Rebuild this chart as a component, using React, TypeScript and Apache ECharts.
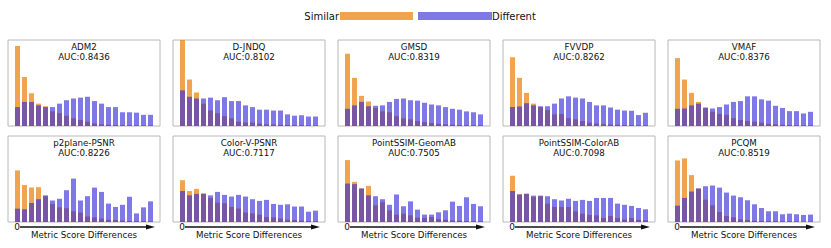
import React, { useEffect, useRef } from "react";
import * as echarts from "echarts";

const metricNames = ["ADM2", "D-JNDQ", "GMSD", "FVVDP", "VMAF", "p2plane-PSNR", "Color-V-PSNR", "PointSSIM-GeomAB", "PointSSIM-ColorAB", "PCQM"];
const aucValues = ["0.8436", "0.8102", "0.8319", "0.8262", "0.8376", "0.8226", "0.7117", "0.7505", "0.7098", "0.8519"];
const binIndex = [0, 1, 2, 3, 4, 5, 6, 7, 8, 9, 10, 11, 12, 13, 14, 15, 16, 17, 18, 19];

const simADM2 = [0.93, 0.57, 0.38, 0.26, 0.23, 0.17, 0.15, 0.12, 0.09, 0.07, 0.05, 0.03, 0.02, 0.015, 0.012, 0.01, 0.008, 0.006, 0.005, 0.004];
const difADM2 = [0.22, 0.28, 0.28, 0.24, 0.22, 0.22, 0.26, 0.30, 0.32, 0.33, 0.34, 0.29, 0.26, 0.22, 0.22, 0.16, 0.16, 0.155, 0.13, 0.13];
const simDJNDQ = [1.05, 0.54, 0.39, 0.26, 0.18, 0.15, 0.115, 0.09, 0.05, 0.04, 0.04, 0.03, 0.02, 0.018, 0.015, 0.012, 0.01, 0.008, 0.006, 0.005];
const difDJNDQ = [0.415, 0.34, 0.32, 0.32, 0.33, 0.30, 0.335, 0.29, 0.29, 0.24, 0.22, 0.19, 0.19, 0.18, 0.18, 0.135, 0.12, 0.125, 0.11, 0.11];
const simGMSD = [0.84, 0.56, 0.35, 0.285, 0.21, 0.17, 0.16, 0.115, 0.09, 0.077, 0.058, 0.046, 0.035, 0.027, 0.02, 0.016, 0.012, 0.01, 0.008, 0.006];
const difGMSD = [0.20, 0.24, 0.28, 0.23, 0.235, 0.24, 0.28, 0.315, 0.32, 0.30, 0.295, 0.27, 0.25, 0.24, 0.22, 0.20, 0.19, 0.17, 0.16, 0.135];
const simFVVDP = [0.80, 0.56, 0.385, 0.26, 0.22, 0.185, 0.135, 0.14, 0.09, 0.077, 0.058, 0.04, 0.03, 0.022, 0.018, 0.014, 0.011, 0.009, 0.007, 0.005];
const difFVVDP = [0.22, 0.227, 0.265, 0.24, 0.23, 0.23, 0.26, 0.32, 0.345, 0.33, 0.32, 0.28, 0.24, 0.24, 0.215, 0.19, 0.18, 0.177, 0.127, 0.154];
const simVMAF = [0.79, 0.54, 0.385, 0.28, 0.21, 0.165, 0.14, 0.13, 0.09, 0.07, 0.058, 0.05, 0.04, 0.025, 0.02, 0.015, 0.012, 0.01, 0.008, 0.006];
const difVMAF = [0.20, 0.204, 0.24, 0.26, 0.215, 0.204, 0.22, 0.25, 0.28, 0.29, 0.345, 0.345, 0.31, 0.295, 0.235, 0.21, 0.173, 0.173, 0.146, 0.165];
const simP2plane = [0.60, 0.43, 0.40, 0.405, 0.30, 0.21, 0.17, 0.16, 0.125, 0.11, 0.066, 0.054, 0.04, 0.027, 0.023, 0.016, 0.012, 0.01, 0.008, 0.006];
const difP2plane = [0.155, 0.148, 0.22, 0.265, 0.31, 0.25, 0.27, 0.37, 0.505, 0.25, 0.30, 0.40, 0.35, 0.214, 0.175, 0.20, 0.295, 0.10, 0.17, 0.24];
const simColorV = [0.486, 0.36, 0.385, 0.33, 0.28, 0.225, 0.218, 0.175, 0.156, 0.11, 0.10, 0.086, 0.058, 0.054, 0.04, 0.027, 0.023, 0.016, 0.012, 0.01];
const difColorV = [0.36, 0.31, 0.327, 0.33, 0.31, 0.35, 0.315, 0.296, 0.315, 0.296, 0.265, 0.245, 0.257, 0.21, 0.20, 0.206, 0.18, 0.18, 0.12, 0.132];
const simGeomAB = [0.72, 0.467, 0.39, 0.42, 0.195, 0.23, 0.136, 0.086, 0.097, 0.078, 0.05, 0.047, 0.058, 0.035, 0.027, 0.018, 0.015, 0.012, 0.01, 0.008];
const difGeomAB = [0.447, 0.44, 0.39, 0.31, 0.30, 0.265, 0.20, 0.32, 0.183, 0.24, 0.144, 0.086, 0.086, 0.113, 0.136, 0.237, 0.187, 0.288, 0.21, 0.183];
const simColorAB = [0.537, 0.323, 0.33, 0.29, 0.30, 0.214, 0.175, 0.175, 0.175, 0.125, 0.097, 0.082, 0.078, 0.047, 0.07, 0.047, 0.03, 0.047, 0.027, 0.02];
const difColorAB = [0.36, 0.32, 0.327, 0.307, 0.307, 0.30, 0.265, 0.25, 0.27, 0.245, 0.257, 0.245, 0.28, 0.28, 0.28, 0.214, 0.20, 0.187, 0.163, 0.148];
const simPCQM = [0.716, 0.74, 0.545, 0.39, 0.26, 0.195, 0.117, 0.07, 0.054, 0.031, 0.023, 0.015, 0.012, 0.01, 0.008, 0.006, 0.005, 0.004, 0.003, 0.003];
const difPCQM = [0.19, 0.28, 0.354, 0.39, 0.416, 0.424, 0.40, 0.342, 0.307, 0.288, 0.253, 0.206, 0.163, 0.125, 0.125, 0.09, 0.097, 0.09, 0.082, 0.086];

const similarSeries = [simADM2, simDJNDQ, simGMSD, simFVVDP, simVMAF, simP2plane, simColorV, simGeomAB, simColorAB, simPCQM];
const differentSeries = [difADM2, difDJNDQ, difGMSD, difFVVDP, difVMAF, difP2plane, difColorV, difGeomAB, difColorAB, difPCQM];

const FONT = "DejaVu Sans";
const ORANGE = "rgba(234,126,5,0.7)";
const PURPLE = "rgba(48,38,216,0.62)";

export default function App() {
  const ref = useRef<HTMLDivElement>(null);
  useEffect(() => {
    if (!ref.current) return;
    const chart = echarts.init(ref.current, null, { renderer: "svg" });
    const PW = 152;
    const PH = 86;
    const lefts = [8, 173, 338, 503, 668];
    const tops = [40, 136];
    const grids: any[] = [];
    const xAxes: any[] = [];
    const yAxes: any[] = [];
    const series: any[] = [];
    const graphics: any[] = [];
    for (let k = 0; k < 10; k++) {
      const row = Math.floor(k / 5);
      const col = k % 5;
      const left = lefts[col];
      const top = tops[row];
      grids.push({ left, top, width: PW, height: PH, show: true, borderColor: "#b8b8b8", borderWidth: 1, backgroundColor: "transparent", containLabel: false });
      xAxes.push({ type: "value", gridIndex: k, min: -1.36, max: 20.36, show: false });
      yAxes.push({ type: "value", gridIndex: k, min: 0, max: 1, show: false });
      series.push({
        type: "bar", xAxisIndex: k, yAxisIndex: k, barWidth: 5, barGap: "-100%", clip: true,
        itemStyle: { color: ORANGE },
        data: binIndex.map((i) => [i, similarSeries[k][i]]),
      });
      series.push({
        type: "bar", xAxisIndex: k, yAxisIndex: k, barWidth: 5, barGap: "-100%", clip: true,
        itemStyle: { color: PURPLE },
        data: binIndex.map((i) => [i, differentSeries[k][i]]),
      });
      const cx = left + PW / 2;
      graphics.push({ type: "text", x: cx, y: top + 7, style: { text: metricNames[k], textAlign: "center", textVerticalAlign: "middle", fontSize: 8.7, fontFamily: FONT, fill: "#111" } });
      graphics.push({ type: "text", x: cx, y: top + 17, style: { text: "AUC:" + aucValues[k], textAlign: "center", textVerticalAlign: "middle", fontSize: 8.7, fontFamily: FONT, fill: "#111" } });
      if (row === 1) {
        const ay = 227;
        graphics.push({ type: "text", x: left + 9, y: ay, style: { text: "0", textAlign: "center", textVerticalAlign: "middle", fontSize: 9, fontFamily: FONT, fill: "#111" } });
        graphics.push({ type: "line", shape: { x1: left + 12, y1: ay, x2: left + 141, y2: ay }, style: { stroke: "#111", lineWidth: 1.3 } });
        graphics.push({ type: "polygon", shape: { points: [[left + 138, ay - 2.5], [left + 147, ay], [left + 138, ay + 2.5]] }, style: { fill: "#111" } });
        graphics.push({ type: "text", x: cx, y: 234.5, style: { text: "Metric Score Differences", textAlign: "center", textVerticalAlign: "middle", fontSize: 8.7, fontFamily: FONT, fill: "#111" } });
      }
    }
    // legend
    graphics.push({ type: "text", x: 339, y: 16, style: { text: "Similar", textAlign: "right", textVerticalAlign: "middle", fontSize: 10, fontFamily: FONT, fill: "#111" } });
    graphics.push({ type: "rect", shape: { x: 340, y: 12, width: 73, height: 8 }, style: { fill: ORANGE } });
    graphics.push({ type: "rect", shape: { x: 418, y: 12, width: 74, height: 8 }, style: { fill: PURPLE } });
    graphics.push({ type: "text", x: 492, y: 16, style: { text: "Different", textAlign: "left", textVerticalAlign: "middle", fontSize: 10, fontFamily: FONT, fill: "#111" } });

    chart.setOption({
      animation: false,
      backgroundColor: "#fff",
      grid: grids,
      xAxis: xAxes,
      yAxis: yAxes,
      series,
      graphic: graphics,
    });
    return () => chart.dispose();
  }, []);
  return <div ref={ref} style={{ position: "fixed", left: 0, top: 0, width: 831, height: 248 }} />;
}
